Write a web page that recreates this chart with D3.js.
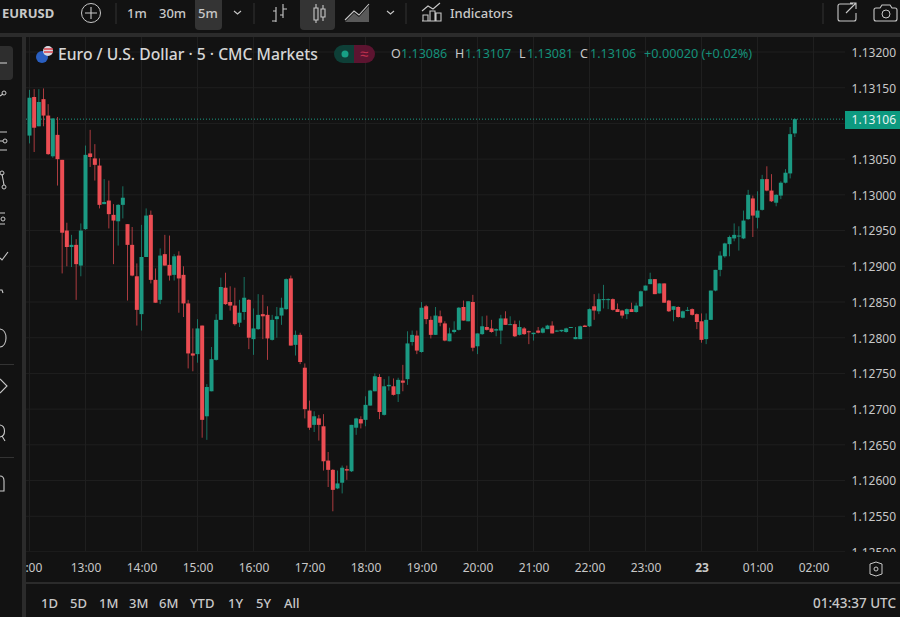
<!DOCTYPE html>
<html>
<head>
<meta charset="utf-8">
<title>EURUSD</title>
<script src="https://cdn.jsdelivr.net/npm/d3@7"></script>
<style>
  html, body { margin: 0; padding: 0; background: #121212; overflow: hidden; }
  text { font-family: "Noto Sans", sans-serif; }
</style>
</head>
<body>
<svg id="chart" width="900" height="617"></svg>
<script>
// 5 minute candles from 12:00
const opens = [
1.13083,1.13137,1.13096,1.13134,1.13111,1.13054,1.13084,1.13049,1.12950,1.12927,1.12930,1.12901,1.12952,1.13058,1.13051,1.13041,1.12987,1.12992,1.12972,1.12963,1.12986,1.12959,1.12930,
1.12886,1.12833,1.12913,1.12972,1.12881,1.12853,1.12917,1.12902,1.12888,1.12915,1.12888,1.12848,1.12778,1.12777,1.12817,1.12690,1.12725,1.12769,1.12825,1.12870,1.12850,1.12845,1.12821,1.12836,1.12853,1.12798,1.12812,1.12833,1.12832,1.12797,1.12826,1.12831,1.12840,1.12883,1.12790,
1.12804,1.12758,1.12698,1.12678,1.12687,1.12676,1.12628,1.12615,1.12589,1.12597,1.12616,1.12613,1.12674,1.12686,1.12685,1.12705,1.12725,1.12745,1.12692,1.12732,1.12732,1.12721,1.12740,1.12742,1.12794,1.12803,1.12780,1.12844,1.12825,1.12804,1.12830,1.12820,1.12795,1.12808,1.12811,1.12843,1.12823,1.12850,1.12788,1.12805,1.12815,1.12813,1.12810,1.12810,1.12827,1.12818,1.12819,1.12804,1.12813,1.12809,1.12805,1.12810,1.12807,1.12812,1.12817,1.12809,1.12809,1.12808,1.12814,1.12798,1.12798,1.12817,1.12816,1.12844,1.12837,1.12853,
1.12853,1.12854,1.12840,1.12838,1.12833,1.12840,1.12836,1.12844,1.12866,1.12875,1.12882,1.12862,1.12876,1.12852,1.12839,1.12843,1.12828,1.12838,1.12840,1.12833,1.12823,1.12798,1.12825,1.12866,1.12895,1.12914,1.12931,1.12939,1.12942,1.12939,1.12966,1.12995,1.12968,1.12979,1.13022,1.13006,1.12989,1.12999,1.13017,1.13030,1.13086];
const highs = [
1.13147,1.13148,1.13148,1.13149,1.13127,1.13107,1.13109,1.13049,1.12961,1.12944,1.12938,1.12960,1.13069,1.13091,1.13071,1.13051,1.13022,1.13020,1.12987,1.12987,1.13012,1.12959,1.12955,
1.12904,1.12958,1.12981,1.12978,1.12897,1.12925,1.12944,1.12943,1.12917,1.12921,1.12900,1.12853,1.12813,1.12826,1.12817,1.12735,1.12787,1.12833,1.12884,1.12891,1.12872,1.12870,1.12853,1.12885,1.12854,1.12841,1.12861,1.12860,1.12844,1.12832,1.12843,1.12856,1.12883,1.12887,1.12810,
1.12807,1.12764,1.12712,1.12697,1.12692,1.12693,1.12640,1.12616,1.12614,1.12621,1.12621,1.12678,1.12688,1.12690,1.12718,1.12727,1.12750,1.12749,1.12742,1.12746,1.12743,1.12744,1.12762,1.12809,1.12810,1.12810,1.12850,1.12846,1.12830,1.12843,1.12838,1.12823,1.12814,1.12823,1.12843,1.12852,1.12851,1.12860,1.12806,1.12830,1.12831,1.12825,1.12813,1.12832,1.12837,1.12830,1.12824,1.12824,1.12815,1.12810,1.12807,1.12815,1.12815,1.12818,1.12823,1.12811,1.12811,1.12814,1.12815,1.12815,1.12817,1.12818,1.12841,1.12861,1.12862,1.12874,
1.12855,1.12855,1.12848,1.12839,1.12841,1.12849,1.12849,1.12866,1.12873,1.12891,1.12882,1.12876,1.12876,1.12853,1.12844,1.12844,1.12838,1.12843,1.12841,1.12834,1.12834,1.12834,1.12866,1.12895,1.12921,1.12933,1.12943,1.12960,1.12956,1.12978,1.13007,1.12999,1.13005,1.13028,1.13040,1.13029,1.13001,1.13019,1.13036,1.13095,1.13107];
const lows = [
1.13072,1.13060,1.13096,1.13096,1.13056,1.13052,1.13013,1.12890,1.12900,1.12899,1.12853,1.12886,1.12951,1.13039,1.13020,1.12981,1.12987,1.12953,1.12903,1.12929,1.12967,1.12852,1.12886,
1.12817,1.12810,1.12913,1.12876,1.12849,1.12847,1.12901,1.12880,1.12880,1.12835,1.12829,1.12757,1.12753,1.12765,1.12660,1.12657,1.12725,1.12768,1.12825,1.12846,1.12838,1.12817,1.12815,1.12825,1.12784,1.12776,1.12811,1.12798,1.12769,1.12796,1.12800,1.12818,1.12839,1.12789,1.12775,
1.12763,1.12687,1.12671,1.12668,1.12656,1.12614,1.12591,1.12557,1.12588,1.12582,1.12601,1.12612,1.12664,1.12673,1.12676,1.12705,1.12725,1.12686,1.12691,1.12726,1.12719,1.12710,1.12725,1.12734,1.12789,1.12777,1.12779,1.12819,1.12799,1.12804,1.12816,1.12795,1.12795,1.12806,1.12810,1.12824,1.12823,1.12781,1.12777,1.12804,1.12810,1.12807,1.12802,1.12791,1.12818,1.12818,1.12801,1.12803,1.12804,1.12791,1.12796,1.12806,1.12806,1.12812,1.12806,1.12808,1.12808,1.12807,1.12814,1.12798,1.12798,1.12815,1.12815,1.12825,1.12833,1.12841,
1.12840,1.12838,1.12836,1.12827,1.12826,1.12836,1.12835,1.12843,1.12866,1.12875,1.12861,1.12862,1.12849,1.12836,1.12823,1.12828,1.12827,1.12837,1.12831,1.12812,1.12793,1.12791,1.12825,1.12865,1.12886,1.12912,1.12914,1.12935,1.12922,1.12938,1.12965,1.12941,1.12953,1.12978,1.13005,1.12990,1.12984,1.12994,1.13016,1.13023,1.13081];
const closes = [
1.13136,1.13094,1.13130,1.13111,1.13057,1.13107,1.13050,1.12947,1.12927,1.12930,1.12903,1.12950,1.13056,1.13053,1.13042,1.12986,1.12990,1.12973,1.12964,1.12986,1.12996,1.12930,1.12887,
1.12839,1.12913,1.12971,1.12881,1.12849,1.12915,1.12901,1.12887,1.12914,1.12883,1.12848,1.12778,1.12775,1.12813,1.12685,1.12731,1.12770,1.12825,1.12871,1.12847,1.12845,1.12819,1.12835,1.12856,1.12800,1.12813,1.12832,1.12830,1.12799,1.12825,1.12830,1.12842,1.12882,1.12789,1.12804,
1.12766,1.12700,1.12674,1.12690,1.12678,1.12627,1.12615,1.12587,1.12596,1.12618,1.12614,1.12678,1.12687,1.12680,1.12706,1.12726,1.12746,1.12696,1.12732,1.12734,1.12720,1.12741,1.12737,1.12792,1.12804,1.12782,1.12842,1.12826,1.12804,1.12831,1.12821,1.12796,1.12806,1.12811,1.12842,1.12824,1.12851,1.12786,1.12806,1.12816,1.12811,1.12808,1.12812,1.12827,1.12818,1.12819,1.12802,1.12815,1.12805,1.12808,1.12807,1.12807,1.12813,1.12817,1.12806,1.12810,1.12811,1.12813,1.12815,1.12801,1.12816,1.12815,1.12840,1.12838,1.12854,1.12854,
1.12854,1.12839,1.12836,1.12831,1.12840,1.12836,1.12845,1.12865,1.12873,1.12882,1.12861,1.12876,1.12849,1.12837,1.12844,1.12829,1.12837,1.12839,1.12832,1.12822,1.12797,1.12825,1.12866,1.12895,1.12915,1.12932,1.12941,1.12944,1.12943,1.12964,1.13000,1.12971,1.12978,1.13022,1.13006,1.12991,1.13000,1.13017,1.13031,1.13085,1.13106];

const priceTicks = [1.132, 1.1315, 1.1305, 1.13, 1.1295, 1.129, 1.1285, 1.128, 1.1275, 1.127, 1.1265, 1.126, 1.1255, 1.125];
const gridPrices = [1.132, 1.1315, 1.131, 1.1305, 1.13, 1.1295, 1.129, 1.1285, 1.128, 1.1275, 1.127, 1.1265, 1.126, 1.1255, 1.125];
const hourTicks = [0, 12, 24, 36, 48, 60, 72, 84, 96, 108, 120, 132, 144, 156, 168];
const hourLabels = ['12:00', '13:00', '14:00', '15:00', '16:00', '17:00', '18:00', '19:00', '20:00', '21:00', '22:00', '23:00', '23', '01:00', '02:00'];
const lastPrice = 1.13106;

const ranges = ['1D', '5D', '1M', '3M', '6M', 'YTD', '1Y', '5Y', 'All'];
const rangeX = [41, 70, 99, 129, 159, 190, 228, 256, 284];

const UP = '#1b9a83', DOWN = '#ec4d53';
const BG = '#121212', GRID = '#1f1f1f', SEP = '#2b2b2b', TXT = '#c8c8c8';

const svg = d3.select('#chart');
svg.append('rect').attr('width', 900).attr('height', 617).attr('fill', BG);

const x = d3.scaleLinear().domain([0, 168]).range([29.5, 813.5]);
const y = d3.scaleLinear().domain([1.125, 1.132]).range([552, 52]);

// grid
const grid = svg.append('g');
grid.selectAll('line.h').data(gridPrices).enter().append('line').attr('class', 'h')
  .attr('x1', 26).attr('x2', 845)
  .attr('y1', d => y(d)).attr('y2', d => y(d))
  .attr('stroke', GRID);
grid.selectAll('line.v').data(hourTicks).enter().append('line').attr('class', 'v')
  .attr('x1', d => x(d)).attr('x2', d => x(d))
  .attr('y1', 37).attr('y2', 551)
  .attr('stroke', GRID);

// last price line
svg.append('line')
  .attr('x1', 26).attr('x2', 845)
  .attr('y1', y(lastPrice)).attr('y2', y(lastPrice))
  .attr('stroke', UP).attr('stroke-dasharray', '1 2');

// candles
const candles = svg.append('g').selectAll('g').data(opens).enter().append('g');
candles.append('line')
  .attr('x1', (d, i) => x(i)).attr('x2', (d, i) => x(i))
  .attr('y1', (d, i) => y(highs[i])).attr('y2', (d, i) => y(lows[i]))
  .attr('stroke', (d, i) => closes[i] >= d ? UP : DOWN)
  .attr('stroke-opacity', 0.7);
candles.append('rect')
  .attr('x', (d, i) => x(i) - 2)
  .attr('width', 4)
  .attr('y', (d, i) => y(Math.max(d, closes[i])))
  .attr('height', (d, i) => Math.max(1, Math.abs(y(d) - y(closes[i]))))
  .attr('fill', (d, i) => closes[i] >= d ? UP : DOWN);

// price axis
const yAxis = svg.append('g').attr('transform', 'translate(896,0.5)')
  .call(d3.axisLeft(y).tickValues(priceTicks).tickSize(0).tickPadding(0).tickFormat(d3.format('.5f')));
yAxis.select('.domain').remove();
yAxis.selectAll('text').attr('fill', TXT).style('font-size', '12px').style('font-family', '"Noto Sans", sans-serif');

// covers the lower half of the 1.12500 label
svg.append('rect').attr('x', 26).attr('y', 552).attr('width', 874).attr('height', 65).attr('fill', BG);

// time axis
const xAxis = svg.append('g').attr('transform', 'translate(0,560)')
  .call(d3.axisBottom(x).tickValues(hourTicks).tickSize(0).tickPadding(3)
    .tickFormat((d, i) => hourLabels[i]));
xAxis.select('.domain').remove();
xAxis.selectAll('text').attr('fill', TXT).style('font-size', '12px').style('font-family', '"Noto Sans", sans-serif')
  .attr('font-weight', d => d === 144 ? 700 : 400)
  .attr('dx', d => d === 0 ? -3 : 0);

// last price tag
svg.append('rect').attr('x', 845).attr('y', 111).attr('width', 55).attr('height', 18).attr('fill', '#0d9a80');
svg.append('text').attr('x', 896).attr('y', 124).attr('text-anchor', 'end')
  .attr('fill', '#e8f5f2').style('font-size', '12px').text(d3.format('.5f')(lastPrice));

// frame of the panels
svg.append('rect').attr('x', 0).attr('y', 0).attr('width', 900).attr('height', 33).attr('fill', BG);
svg.append('rect').attr('x', 0).attr('y', 33).attr('width', 900).attr('height', 4).attr('fill', SEP);
svg.append('rect').attr('x', 0).attr('y', 37).attr('width', 22).attr('height', 580).attr('fill', BG);
svg.append('rect').attr('x', 22).attr('y', 37).attr('width', 4).attr('height', 580).attr('fill', SEP);
svg.append('rect').attr('x', 26).attr('y', 582).attr('width', 874).attr('height', 2).attr('fill', SEP);
svg.append('line').attr('x1', 26).attr('x2', 845).attr('y1', 551.5).attr('y2', 551.5).attr('stroke', '#1b1b1b');

function label(t, px, py, size, opts) {
  opts = opts || {};
  return svg.append('text').attr('x', px).attr('y', py)
    .attr('fill', opts.fill || TXT)
    .attr('text-anchor', opts.anchor || 'start')
    .attr('font-weight', opts.weight || 400)
    .style('font-size', size + 'px').text(t);
}
function icon(d, w) {
  return svg.append('path').attr('d', d).attr('fill', 'none')
    .attr('stroke', TXT).attr('stroke-width', w || 1.1);
}
function sep(px) {
  svg.append('line').attr('x1', px).attr('x2', px).attr('y1', 3).attr('y2', 24).attr('stroke', '#333');
}

// top toolbar
label('EURUSD', 2, 18, 13, { weight: 700 });
svg.append('circle').attr('cx', 91).attr('cy', 13).attr('r', 9.5).attr('fill', 'none').attr('stroke', TXT);
icon('M85 13H97M91 7V19');
sep(116);
svg.append('path').attr('d', 'M195 0H222V26a4 4 0 0 1-4 4H199a4 4 0 0 1-4-4Z').attr('fill', '#343434');
svg.append('path').attr('d', 'M300 0H335V26a4 4 0 0 1-4 4H304a4 4 0 0 1-4-4Z').attr('fill', '#343434');
label('1m', 127, 18, 13, { weight: 500 });
label('30m', 159, 18, 13, { weight: 500 });
label('5m', 198, 18, 13, { weight: 500 });
icon('M234 11l3.5 3 3.5-3');
sep(254);
icon('M276 7V22M272 21H276M276 11H273M283 4V18M283 9H287M283 15H280');
icon('M314 8h4v12h-4zM316 4v4M316 20v3M321 9h4v8h-4zM323 5v4M323 17v4');
svg.append('path').attr('d', 'M345 22L354 13L359 17L369 6V22Z').attr('fill', '#777').attr('opacity', 0.7);
icon('M345 20L354 11L359 15L369 4');
icon('M387 11l3.5 3 3.5-3');
sep(406);
icon('M422 21h19v-8h-5v8M428 21v-6h-5v6M430 21v-10h5v10M422 11l6-5 5 3 7-6');
label('Indicators', 450, 18, 13, { weight: 500 });
sep(823);
icon('M853 4H840a2 2 0 0 0-2 2V19a2 2 0 0 0 2 2H854a2 2 0 0 0 2-2V13M846 13L856 3M850 3H856V9');
icon('M876 8h4l2-3h8l2 3h3a2 2 0 0 1 2 2V19a2 2 0 0 1-2 2H876a2 2 0 0 1-2-2V10a2 2 0 0 1 2-2Z');
svg.append('circle').attr('cx', 886).attr('cy', 14).attr('r', 4).attr('fill', 'none').attr('stroke', TXT);

// legend row
svg.append('circle').attr('cx', 42).attr('cy', 57).attr('r', 6).attr('fill', '#2a5fc0');
svg.append('circle').attr('cx', 48).attr('cy', 51).attr('r', 5).attr('fill', '#d8d8e0');
svg.append('path').attr('d', 'M44 49h9M44 52h9').attr('stroke', '#d8404a').attr('stroke-width', 1.4);
label('Euro / U.S. Dollar · 5 · CMC Markets', 58, 60, 15.7, { fill: '#d6d6d6', weight: 500 });
svg.append('path').attr('d', 'M354 45H343a9 9 0 0 0 0 18H354Z').attr('fill', '#0e3f37');
svg.append('path').attr('d', 'M354 45H366a9 9 0 0 1 0 18H354Z').attr('fill', '#5c1430');
svg.append('circle').attr('cx', 345).attr('cy', 54).attr('r', 3.5).attr('fill', '#17a085');
label('≈', 364, 59, 15, { fill: '#c0304f', anchor: 'middle' });

const G = '#15907a';
label('O', 391, 58, 12.5);
label('1.13086', 401, 58, 12.5, { fill: G });
label('H', 455, 58, 12.5);
label('1.13107', 465, 58, 12.5, { fill: G });
label('L', 519, 58, 12.5);
label('1.13081', 527, 58, 12.5, { fill: G });
label('C', 580, 58, 12.5);
label('1.13106', 590, 58, 12.5, { fill: G });
label('+0.00020 (+0.02%)', 644, 58, 12.7, { fill: G });

// left toolbar, cut off by the window
svg.append('path').attr('d', 'M0 46H9a4 4 0 0 1 4 4V76a4 4 0 0 1-4 4H0Z').attr('fill', '#2e2e2e');
icon('M0 63H7');
icon('M0 96L3 94');
svg.append('circle').attr('cx', 4).attr('cy', 93).attr('r', 2).attr('fill', 'none').attr('stroke', TXT);
icon('M0 132H7M0 141H3M0 150H7');
svg.append('circle').attr('cx', 5).attr('cy', 141).attr('r', 2).attr('fill', 'none').attr('stroke', TXT);
icon('M2 174L4 185');
svg.append('circle').attr('cx', 2).attr('cy', 173).attr('r', 2).attr('fill', 'none').attr('stroke', TXT);
svg.append('circle').attr('cx', 4).attr('cy', 187).attr('r', 2).attr('fill', 'none').attr('stroke', TXT);
icon('M0 213H5M0 224H5');
svg.append('circle').attr('cx', 3).attr('cy', 219).attr('r', 2).attr('fill', 'none').attr('stroke', TXT);
icon('M0 258L2 260L8 252');
icon('M0 290H2L3 293');
icon('M0 329C8 330 8 346 0 347');
svg.append('line').attr('x1', 0).attr('x2', 14).attr('y1', 364.5).attr('y2', 364.5).attr('stroke', '#333');
icon('M0 379L7 386L0 393');
icon('M0 425C6 426 6 436 0 437M2 436L5 441');
svg.append('line').attr('x1', 0).attr('x2', 14).attr('y1', 457.5).attr('y2', 457.5).attr('stroke', '#333');
icon('M0 476C3 476 4 478 4 481V491H0');

// bottom bar
ranges.forEach((r, i) => label(r, rangeX[i], 608, 13, { weight: 500 }));
label('01:43:37 UTC', 896, 608, 13.5, { anchor: 'end', weight: 500 });
svg.append('path').attr('d', 'M870 564L876 562L882 564L882 574L876 576L870 574Z')
  .attr('fill', 'none').attr('stroke', TXT);
svg.append('circle').attr('cx', 876).attr('cy', 569).attr('r', 2).attr('fill', 'none').attr('stroke', TXT);
</script>
</body>
</html>
